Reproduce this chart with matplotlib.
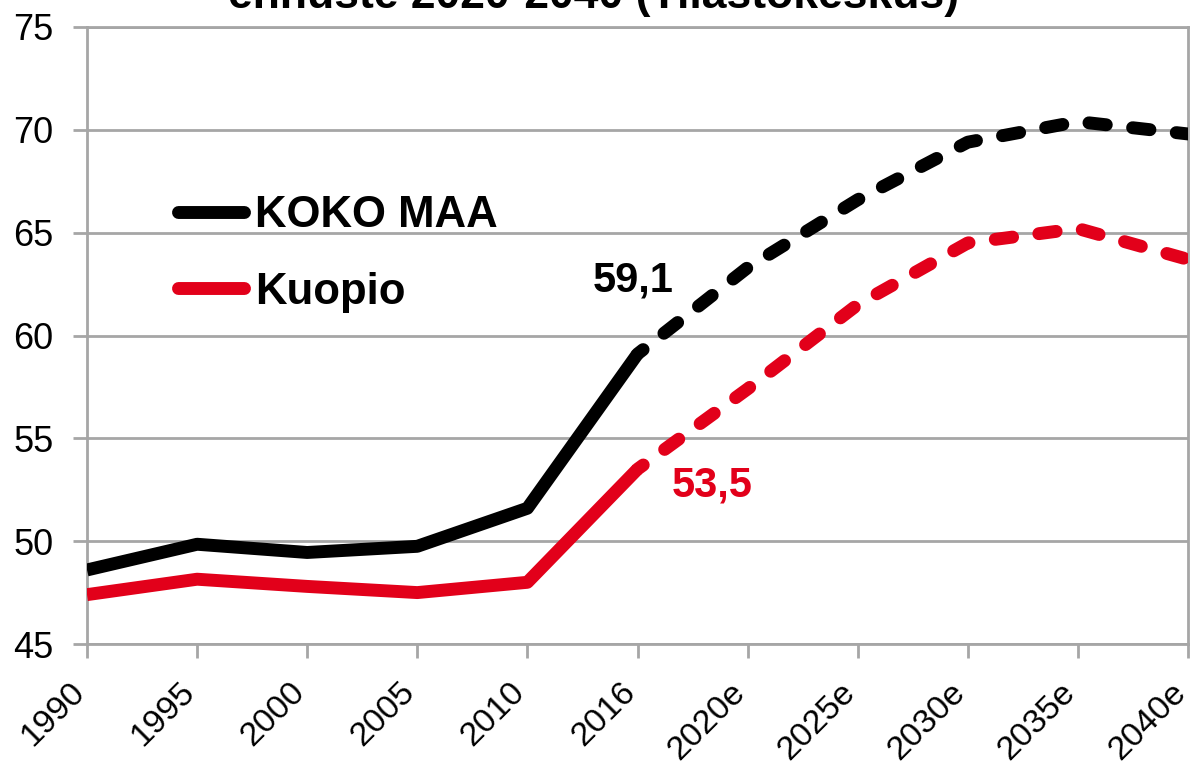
import matplotlib
matplotlib.use("Agg")
import matplotlib.pyplot as plt
from matplotlib.transforms import ScaledTranslation

plt.rcParams['font.family'] = ['Liberation Sans', 'DejaVu Sans']

years = ['1990', '1995', '2000', '2005', '2010', '2016',
         '2020e', '2025e', '2030e', '2035e', '2040e']
koko_maa = [48.6, 49.85, 49.45, 49.75, 51.6, 59.1,
            63.3, 66.6, 69.4, 70.4, 69.8]
kuopio = [47.4, 48.15, 47.8, 47.5, 48.0, 53.5,
          57.4, 61.5, 64.5, 65.2, 63.7]
last_actual = 5  # index of 2016, forecasts after it

red = '#e2001a'
grey = '#a6a6a6'

fig = plt.figure(figsize=(11.95, 7.67), dpi=100)
ax = fig.add_axes([87 / 1195, 1 - 644 / 767, 1101 / 1195, 617 / 767])

x = list(range(len(years)))
lw = 9.3
dash = (1.35, 2.05)

for vals, col, name in [(koko_maa, 'black', 'KOKO MAA'), (kuopio, red, 'Kuopio')]:
    ax.plot(x[:last_actual + 1], vals[:last_actual + 1], color=col, lw=lw,
            solid_capstyle='butt', solid_joinstyle='round', label=name, zorder=3)
    ax.plot(x[last_actual:], vals[last_actual:], color=col, lw=lw,
            linestyle=(0.8, dash), dash_capstyle='round', dash_joinstyle='round',
            zorder=3)

ax.set_xlim(0, len(years) - 1)
ax.set_ylim(45, 75)
ax.set_yticks(range(45, 80, 5))
ax.set_xticks(x)
ax.set_xticklabels(years, rotation=45, ha='right', va='top', rotation_mode='anchor')
ax.tick_params(axis='both', color=grey, width=2, length=10)
ax.tick_params(axis='y', labelsize=26, pad=14)
ax.tick_params(axis='x', labelsize=24.5, pad=10)
shift = ScaledTranslation(-18 / 100, -5 / 100, fig.dpi_scale_trans)
for lab in ax.get_xticklabels():
    lab.set_transform(lab.get_transform() + shift)
ax.grid(axis='y', color=grey, lw=2)
ax.set_axisbelow(True)
for s in ax.spines.values():
    s.set_color(grey)
    s.set_linewidth(2)

leg = ax.legend(loc='upper left', bbox_to_anchor=(0.083, 0.728), frameon=False,
                prop={'size': 31.5, 'weight': 'bold'}, handlelength=1.5,
                handletextpad=0.25, labelspacing=0.82, borderpad=0,
                borderaxespad=0)
for h in leg.legend_handles:
    h.set_solid_capstyle('round')

ax.annotate('59,1', (last_actual, koko_maa[last_actual]), xytext=(-3, 53),
            textcoords='offset points', ha='center', va='center',
            fontsize=30, fontweight='bold', color='black')
ax.annotate('53,5', (last_actual, kuopio[last_actual]), xytext=(54, -12),
            textcoords='offset points', ha='center', va='center',
            fontsize=30, fontweight='bold', color=red)

fig.text(0.497, 1 - 8 / 767, 'ennuste 2020-2040 (Tilastokeskus)', ha='center',
         va='baseline', fontsize=32, fontweight='bold')

fig.savefig('out.png', dpi=100)
